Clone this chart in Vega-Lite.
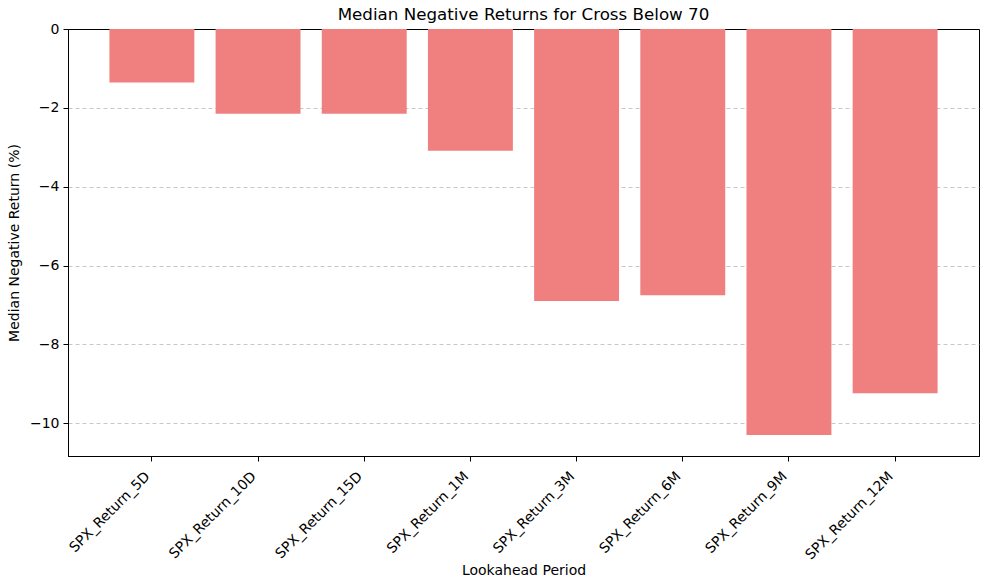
{
  "$schema": "https://vega.github.io/schema/vega-lite/v6.json",
  "width": 911,
  "height": 427,
  "autosize": {"type": "none"},
  "padding": {"left": 68, "top": 29, "right": 3, "bottom": 129},
  "background": "white",
  "title": {
    "text": "Median Negative Returns for Cross Below 70",
    "font": "DejaVu Sans",
    "fontSize": 16.7,
    "fontWeight": "normal",
    "color": "black",
    "anchor": "middle",
    "offset": -2
  },
  "config": {
    "view": {"stroke": "black", "strokeWidth": 1},
    "axis": {
      "labelFont": "DejaVu Sans",
      "titleFont": "DejaVu Sans",
      "labelFontSize": 14,
      "titleFontSize": 14,
      "titleFontWeight": "normal",
      "labelColor": "black",
      "titleColor": "black",
      "tickColor": "black",
      "domainColor": "black",
      "tickSize": 5,
      "labelPadding": 4
    }
  },
  "data": {
    "values": [
      {"period": "SPX_Return_5D", "value": -1.36},
      {"period": "SPX_Return_10D", "value": -2.15},
      {"period": "SPX_Return_15D", "value": -2.15},
      {"period": "SPX_Return_1M", "value": -3.09},
      {"period": "SPX_Return_3M", "value": -6.9},
      {"period": "SPX_Return_6M", "value": -6.75},
      {"period": "SPX_Return_9M", "value": -10.3},
      {"period": "SPX_Return_12M", "value": -9.24}
    ]
  },
  "mark": {"type": "bar", "color": "#F08080"},
  "encoding": {
    "x": {
      "field": "period",
      "type": "nominal",
      "sort": null,
      "title": "Lookahead Period",
      "scale": {"paddingInner": 0.2, "paddingOuter": 0.39},
      "axis": {
        "labelAngle": -45,
        "labelAlign": "right",
        "labelBaseline": "top",
        "labelOffset": -9,
        "labelPadding": 8,
        "grid": false,
        "titlePadding": 2
      }
    },
    "y": {
      "field": "value",
      "type": "quantitative",
      "title": "Median Negative Return (%)",
      "scale": {"domain": [-10.83, 0], "nice": false, "zero": false},
      "axis": {
        "values": [0, -2, -4, -6, -8, -10],
        "grid": true,
        "gridDash": [4, 3],
        "gridColor": "#b0b0b0",
        "gridOpacity": {"condition": {"test": "datum.value === 0", "value": 0}, "value": 0.7},
        "titlePadding": 8
      }
    }
  }
}
